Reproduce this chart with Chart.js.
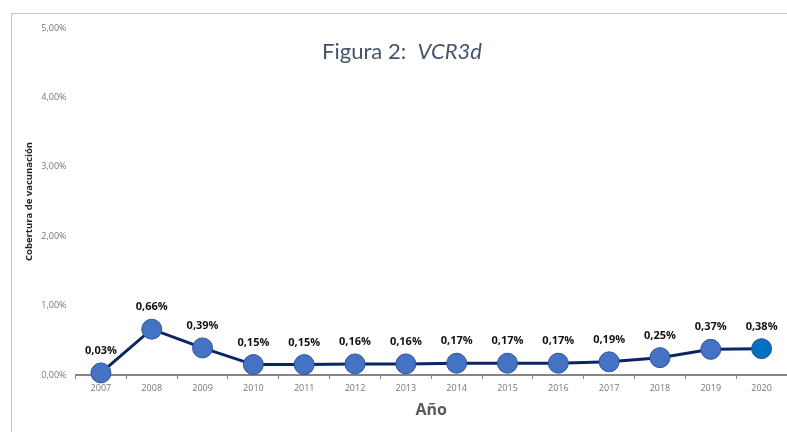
<!DOCTYPE html>
<html>
<head>
<meta charset="utf-8">
<script src="https://cdn.jsdelivr.net/npm/chart.js@4"></script>
<style>
  html, body { margin: 0; padding: 0; background: #fff; }
  #wrap { position: relative; width: 787px; height: 432px; overflow: hidden; }
  #marco { position: absolute; left: 11px; top: 13px; width: 800px; height: 440px;
           border-left: 1px solid #c6c6c6; border-top: 1px solid #c6c6c6; }
  #titulo { position: absolute; left: 0; width: 804px; top: 37px; text-align: center;
            font-family: Lato, 'Open Sans', sans-serif; font-size: 22px; color: #44546a; }
  canvas { position: absolute; left: 0; top: 0; }
</style>
</head>
<body>
<div id="wrap">
  <div id="marco"></div>
  <canvas id="grafico" width="787" height="432"></canvas>
  <div id="titulo">Figura 2:&nbsp; <i>VCR3d</i></div>
</div>
<script>
// Datos del gráfico (cobertura en %)
const anios = ['2007', '2008', '2009', '2010', '2011', '2012', '2013', '2014', '2015', '2016', '2017', '2018', '2019', '2020'];
const cobertura = [0.03, 0.66, 0.39, 0.15, 0.15, 0.16, 0.16, 0.17, 0.17, 0.17, 0.19, 0.25, 0.37, 0.38];
const yTicks = [0, 1, 2, 3, 4, 5];

const formatPct = (v) => v.toFixed(2).replace('.', ',') + '%';

const colorPunto = '#4472c4';
const colorUltimo = '#0070c0';
const coloresPuntos = cobertura.map((v, i) => i === cobertura.length - 1 ? colorUltimo : colorPunto);

// Etiquetas de datos sobre cada punto
const etiquetasPlugin = {
  id: 'etiquetas',
  afterDatasetsDraw(chart) {
    const ctx = chart.ctx;
    const meta = chart.getDatasetMeta(0);
    ctx.save();
    ctx.font = 'bold 11px "Open Sans", sans-serif';
    ctx.fillStyle = '#111';
    ctx.textAlign = 'center';
    ctx.textBaseline = 'middle';
    meta.data.forEach((pt, i) => {
      ctx.fillText(formatPct(cobertura[i]), pt.x, pt.y - 22);
    });
    ctx.restore();
  }
};

new Chart(document.getElementById('grafico'), {
  type: 'line',
  data: {
    labels: anios,
    datasets: [{
      data: cobertura,
      borderColor: '#0a2466',
      borderWidth: 3,
      pointRadius: 10,
      pointHoverRadius: 10,
      pointBackgroundColor: coloresPuntos,
      pointBorderColor: '#2f5597',
      pointBorderWidth: 1,
      clip: false,
      tension: 0
    }]
  },
  options: {
    responsive: false,
    animation: false,
    layout: { autoPadding: false, padding: { top: 28, left: 24, right: -1, bottom: 12 } },
    plugins: { legend: { display: false }, title: { display: false }, tooltip: { enabled: false } },
    scales: {
      x: {
        offset: true,
        grid: { display: true, offset: true, drawOnChartArea: false, drawTicks: true, tickLength: 4, color: '#868686', lineWidth: 1 },
        border: { display: true, color: '#868686', width: 2 },
        ticks: { color: '#767676', font: { family: '"Open Sans", sans-serif', size: 9 }, padding: 4, maxRotation: 0 },
        title: { display: true, text: 'Año', color: '#595959', font: { family: '"Open Sans", sans-serif', size: 16, weight: 'bold' }, padding: { top: 3, bottom: 0 } }
      },
      y: {
        min: 0,
        max: 5,
        afterBuildTicks: (scale) => { scale.ticks = yTicks.map(v => ({ value: v })); },
        afterFit: (scale) => { scale.width = 51.5; },
        grid: { display: false },
        border: { display: false },
        ticks: { color: '#767676', font: { family: '"Open Sans", sans-serif', size: 9 }, padding: 1, callback: (v) => formatPct(v) },
        title: { display: true, text: 'Cobertura de vacunación', color: '#222', font: { family: '"Open Sans", sans-serif', size: 9.5, weight: 'bold' }, padding: { top: 0, bottom: 2 } }
      }
    }
  },
  plugins: [etiquetasPlugin]
});
</script>
</body>
</html>
